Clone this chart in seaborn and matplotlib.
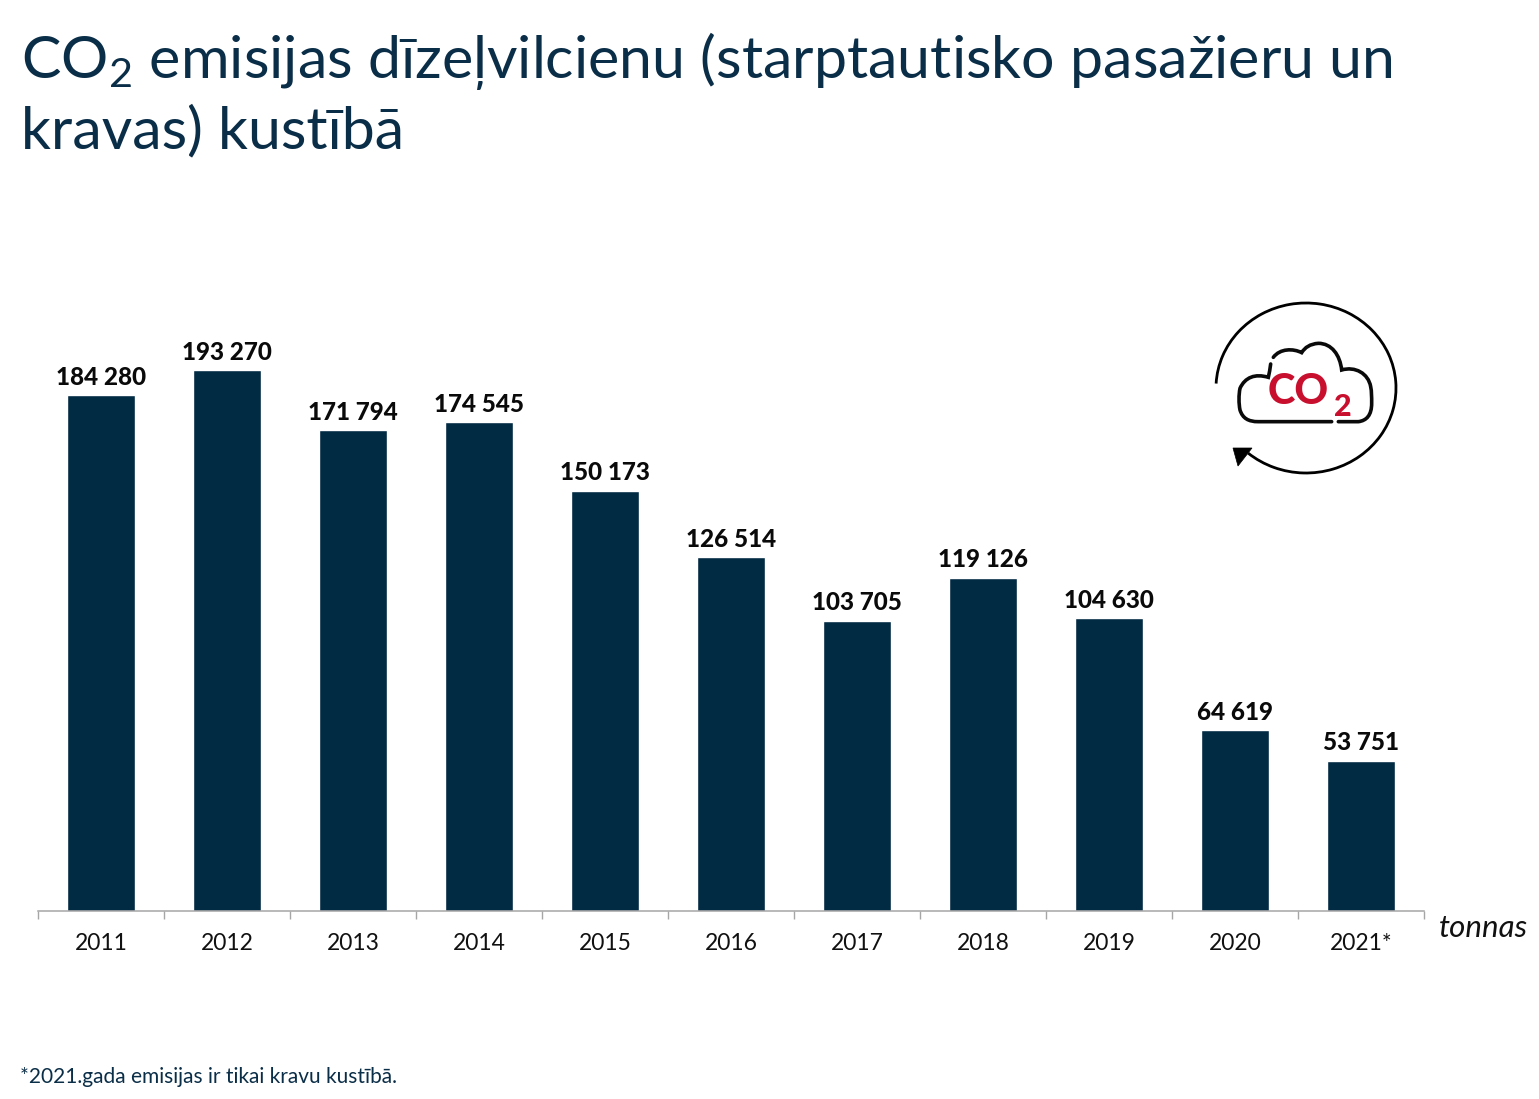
import matplotlib
matplotlib.use("Agg")
import matplotlib.pyplot as plt
from matplotlib.patches import PathPatch, Polygon
from matplotlib.path import Path
import seaborn as sns
import pandas as pd

years = ["2011", "2012", "2013", "2014", "2015", "2016", "2017", "2018", "2019", "2020", "2021*"]
values = [184280, 193270, 171794, 174545, 150173, 126514, 103705, 119126, 104630, 64619, 53751]
title_text = "CO$_2$ emisijas dīzeļvilcienu (starptautisko pasažieru un\nkravas) kustībā"
footnote = "*2021.gada emisijas ir tikai kravu kustībā."
unit = "tonnas"

NAVY = "#012a43"
TITLE = "#0b2e48"
W, H = 1539, 1099

sns.set_theme(style="white")
plt.rcParams["font.family"] = ["Lato", "DejaVu Sans"]
plt.rcParams["mathtext.default"] = "regular"

fig = plt.figure(figsize=(W / 100, H / 100), dpi=100, facecolor="white")
ax = fig.add_axes([38 / W, (H - 911) / H, (1424 - 38) / W, 611 / H])
df = pd.DataFrame({"year": years, "value": values})
sns.barplot(data=df, x="year", y="value", color=NAVY, saturation=1, width=0.535, ax=ax)
ax.set_xlim(-0.5, 10.5)
ax.set_ylim(0, 193270 * 611 / 541)
ax.set_xlabel("")
ax.set_ylabel("")
ax.set_yticks([])
for s in ("left", "right", "top"):
    ax.spines[s].set_visible(False)
ax.spines["bottom"].set_color("#a6a6a6")
ax.spines["bottom"].set_linewidth(1.1)
ax.set_xticks([i - 0.5 for i in range(len(years) + 1)], minor=True)
ax.tick_params(axis="x", which="minor", length=6, width=1, color="#a6a6a6", bottom=True)
ax.tick_params(axis="x", which="major", length=0, pad=15.5, labelsize=16.5, labelcolor="#111111")

ax.bar_label(ax.containers[0], labels=[f"{v:,}".replace(",", " ") for v in values],
             padding=4.5, fontsize=17.5, fontweight=900, color="#0a0a0a")

# overlay in pixel coordinates for title, notes and the icon
ov = fig.add_axes([0, 0, 1, 1], facecolor="none")
ov.set_xlim(0, W)
ov.set_ylim(H, 0)
ov.axis("off")

ov.text(21, 30, title_text, fontsize=42.6, fontweight="normal", color=TITLE, va="top", ha="left", linespacing=1.29)
ov.text(20, 1077, footnote, fontsize=15, color=TITLE, va="center", ha="left")
ov.text(1439, 928, unit, fontsize=22.5, style="italic", color="#111111", va="center", ha="left")

# CO2 icon: circular arrow
arc_pts = Path.arc(-177, 130)
verts = [(1306 + 90 * x, 388 + 85 * y) for x, y in arc_pts.vertices]
ov.add_patch(PathPatch(Path(verts, arc_pts.codes), fill=False, ec="black", lw=2))
ov.add_patch(Polygon([(1233, 448), (1252, 448), (1238, 466)], closed=True, fc="black", ec="black", lw=0.5))


def z(x, y):
    return (1190 + x / 3, 290 + y / 3)


M, C = Path.MOVETO, Path.CURVE4
cloud_a = [
    ((242, 222), M),
    ((240, 235), C), ((238, 250), C), ((235, 262), C),
    ((195, 250), C), ((165, 262), C), ((150, 295), C),
    ((146, 315), C), ((146, 340), C), ((150, 360), C),
    ((158, 385), C), ((175, 395), C), ((205, 395), C),
    ((280, 395), C), ((350, 395), C), ((425, 395), C),
]
cloud_b = [
    ((445, 395), M),
    ((465, 395), C), ((485, 395), C), ((505, 395), C),
    ((530, 392), C), ((545, 375), C), ((545, 340), C),
    ((545, 320), C), ((545, 305), C), ((542, 290), C),
    ((535, 250), C), ((495, 228), C), ((455, 240), C),
    ((450, 195), C), ((425, 160), C), ((385, 160), C),
    ((360, 162), C), ((345, 172), C), ((335, 188), C),
    ((310, 175), C), ((270, 175), C), ((250, 202), C),
]
for seg in (cloud_a, cloud_b):
    ov.add_patch(PathPatch(Path([z(*p) for p, _ in seg], [c for _, c in seg]),
                           fill=False, ec="#0a0a0a", lw=2.6, capstyle="round"))

ov.text(1268, 392, "CO", fontsize=30, fontweight=900, color="#c8102e", va="center", ha="left")
ov.text(1334, 407, "2", fontsize=22, fontweight=900, color="#c8102e", va="center", ha="left")

fig.savefig("out.png", dpi=100, facecolor="white")
